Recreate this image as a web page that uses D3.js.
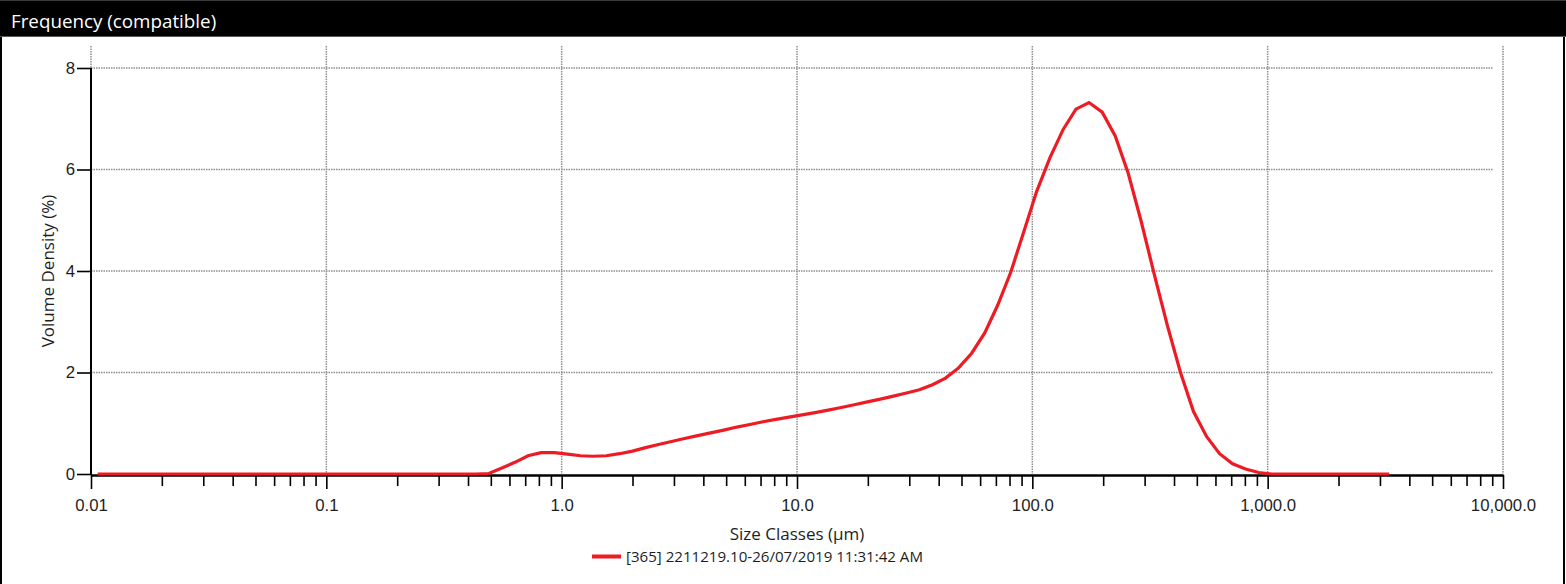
<!DOCTYPE html>
<html>
<head>
<meta charset="utf-8">
<script src="https://cdn.jsdelivr.net/npm/d3@7"></script>
<style>
  html, body { margin: 0; padding: 0; background: #fff; }
  svg { display: block; font-family: "Open Sans", "Noto Sans", sans-serif; }
</style>
</head>
<body>
<svg id="chart" width="1566" height="584"></svg>
<script>
// Size class boundaries (µm) of the laser diffraction analyser, 100 log-spaced classes.
const sizeClassEdges = [
  0.0100, 0.0114, 0.0129, 0.0147, 0.0167, 0.0189, 0.0215, 0.0244, 0.0278, 0.0315,
  0.0358, 0.0407, 0.0463, 0.0526, 0.0597, 0.0679, 0.0771, 0.0876, 0.0995, 0.113,
  0.128, 0.146, 0.166, 0.188, 0.214, 0.243, 0.276, 0.314, 0.357, 0.405,
  0.460, 0.523, 0.594, 0.675, 0.767, 0.872, 0.991, 1.13, 1.28, 1.45,
  1.65, 1.88, 2.13, 2.42, 2.75, 3.12, 3.55, 4.03, 4.58, 5.21,
  5.92, 6.72, 7.64, 8.68, 9.86, 11.2, 12.7, 14.5, 16.4, 18.7,
  21.2, 24.1, 27.4, 31.1, 35.3, 40.1, 45.6, 51.8, 58.9, 66.9,
  76.0, 86.4, 98.1, 111, 127, 144, 163, 186, 211, 240,
  272, 310, 352, 400, 454, 516, 586, 666, 756, 859,
  976, 1110, 1260, 1430, 1630, 1850, 2100, 2390, 2710, 3080,
  3500
];

// Volume density (%) per size class.
const volumeDensity = [
  0, 0, 0, 0, 0, 0, 0, 0, 0, 0,
  0, 0, 0, 0, 0, 0, 0, 0, 0, 0,
  0, 0, 0, 0, 0, 0, 0, 0, 0, 0,
  0.01, 0.12, 0.23, 0.36, 0.42, 0.42, 0.39, 0.36, 0.35, 0.36,
  0.40, 0.45, 0.52, 0.58, 0.64, 0.70, 0.755, 0.81, 0.865, 0.925,
  0.975, 1.03, 1.075, 1.12, 1.165, 1.21, 1.26, 1.31, 1.365, 1.42,
  1.475, 1.535, 1.595, 1.66, 1.76, 1.89, 2.09, 2.38, 2.78, 3.33,
  3.98, 4.78, 5.57, 6.23, 6.79, 7.19, 7.32, 7.13, 6.66, 5.925,
  4.97, 3.92, 2.92, 2.00, 1.23, 0.74, 0.40, 0.20, 0.10, 0.03,
  0, 0, 0, 0, 0, 0, 0, 0, 0, 0
];

const xTickValues = [0.01, 0.1, 1, 10, 100, 1000, 10000];
const xTickLabels = ["0.01", "0.1", "1.0", "10.0", "100.0", "1,000.0", "10,000.0"];
const yTickValues = [0, 2, 4, 6, 8];
const yTickLabels = ["0", "2", "4", "6", "8"];

const titleText = "Frequency (compatible)";
const xTitle = "Size Classes (\u00b5m)";
const yTitle = "Volume Density (%)";
const seriesName = "[365] 2211219.10-26/07/2019 11:31:42 AM";

const W = 1566, H = 584;
const lineColor = "#ed1c24";
const gridColor = "#8f8f8f";
const textColor = "#1e1e1e";

const svg = d3.select("#chart");

// Each class is plotted at the geometric middle of its bounds.
const points = volumeDensity.map((v, i) => ({
  size: Math.sqrt(sizeClassEdges[i] * sizeClassEdges[i + 1]),
  value: v
}));

const x = d3.scaleLog().domain([0.01, 10000]).range([91, 1503]);
const y = d3.scaleLinear().domain([0, 8]).range([474, 68]);

// Panel frame and title bar
svg.append("rect").attr("x", 0).attr("y", 0).attr("width", W).attr("height", H).attr("fill", "#fff");
svg.append("rect").attr("x", 0).attr("y", 0).attr("width", W).attr("height", 36).attr("fill", "#000");
svg.append("rect").attr("x", 0).attr("y", 0).attr("width", W).attr("height", 1).attr("fill", "#3a3a3a");
svg.append("rect").attr("x", 0).attr("y", 36).attr("width", W).attr("height", 1).attr("fill", "#5a5a5a");
svg.append("rect").attr("x", 0).attr("y", 37).attr("width", 2).attr("height", H - 37).attr("fill", "#000");
svg.append("rect").attr("x", 1563).attr("y", 37).attr("width", 2).attr("height", H - 37).attr("fill", "#000");
svg.append("text")
  .attr("x", 11).attr("y", 28)
  .attr("fill", "#fff")
  .style("font-size", "18.8px")
  .text(titleText);

// Grid
const grid = svg.append("g").attr("fill", "none")
  .attr("stroke", gridColor).attr("stroke-width", 1.5).attr("stroke-dasharray", "1.5,1");
grid.selectAll("line.h")
  .data(yTickValues.filter(d => d > 0))
  .join("line").attr("class", "h")
  .attr("x1", x(0.01)).attr("x2", 1493)
  .attr("y1", d => y(d)).attr("y2", d => y(d));
grid.selectAll("line.v")
  .data(xTickValues)
  .join("line").attr("class", "v")
  .attr("x1", d => x(d)).attr("x2", d => x(d))
  .attr("y1", 46).attr("y2", y(0));

// Minor x ticks at 2..9 of every decade
const minorTicks = [];
for (let e = -2; e < 4; e++) {
  for (let m = 2; m <= 9; m++) minorTicks.push(m * Math.pow(10, e));
}

const axisY0 = 475;
const xMinor = svg.append("g").attr("transform", `translate(0,${axisY0})`)
  .call(d3.axisBottom(x).tickValues(minorTicks).tickSize(11).tickSizeOuter(0).tickFormat(""));
const xMajor = svg.append("g").attr("transform", `translate(0,${axisY0})`)
  .call(d3.axisBottom(x).tickValues(xTickValues).tickSize(14).tickSizeOuter(0)
    .tickPadding(10).tickFormat((d, i) => xTickLabels[i]));

const yAxis = svg.append("g").attr("transform", `translate(${x(0.01)},0)`)
  .call(d3.axisLeft(y).tickValues(yTickValues).tickSize(14).tickSizeOuter(0)
    .tickPadding(2).tickFormat((d, i) => yTickLabels[i]));

[xMinor, xMajor, yAxis].forEach(g => {
  g.select(".domain").attr("stroke", "#000").attr("stroke-width", 2);
  g.selectAll(".tick line").attr("stroke", "#000").attr("stroke-width", 1.6);
  g.selectAll(".tick text").attr("fill", textColor).style("font-size", "16.8px");
});
yAxis.select(".domain").attr("d", `M0,${axisY0}V${y(8)}`);

// Distribution curve
const line = d3.line().x(d => x(d.size)).y(d => y(d.value));
svg.append("path")
  .datum(points)
  .attr("fill", "none")
  .attr("stroke", lineColor)
  .attr("stroke-width", 3.2)
  .attr("d", line);

// Axis titles
svg.append("text")
  .attr("x", 797).attr("y", 540)
  .attr("text-anchor", "middle")
  .attr("fill", textColor)
  .style("font-size", "17px")
  .text(xTitle);
svg.append("text")
  .attr("transform", "translate(54,271) rotate(-90)")
  .attr("text-anchor", "middle")
  .attr("fill", textColor)
  .style("font-size", "17px")
  .text(yTitle);

// Legend
const legend = svg.append("g");
legend.append("line")
  .attr("x1", 592).attr("x2", 621).attr("y1", 556.5).attr("y2", 556.5)
  .attr("stroke", lineColor).attr("stroke-width", 4);
legend.append("text")
  .attr("x", 626).attr("y", 561.5)
  .attr("fill", textColor)
  .style("font-size", "15.1px")
  .text(seriesName);
</script>
</body>
</html>
